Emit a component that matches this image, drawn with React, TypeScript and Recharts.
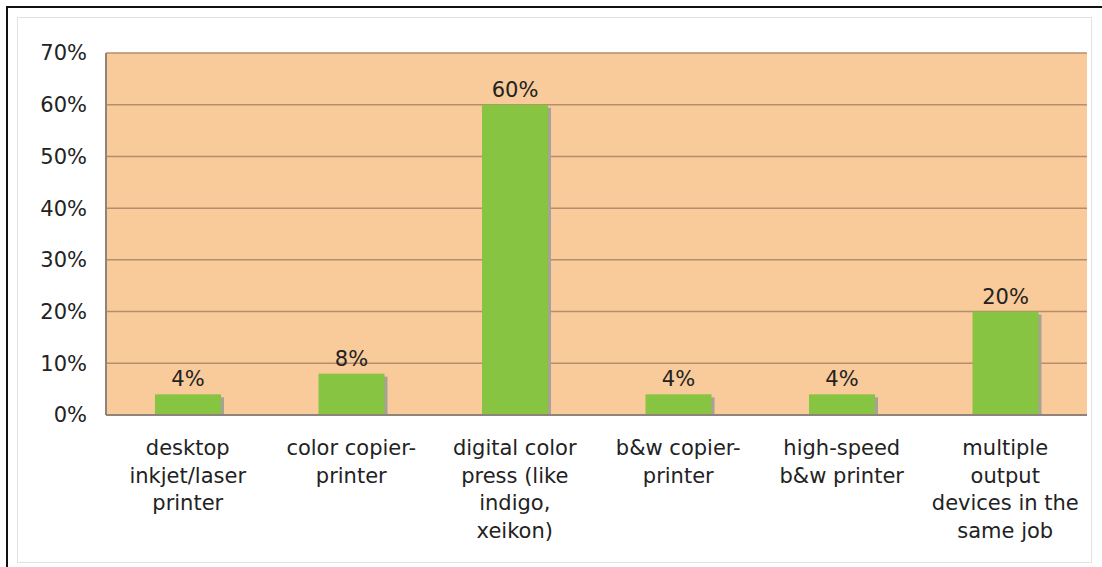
import React from "react"
import { Bar, BarChart, CartesianGrid, LabelList, XAxis, YAxis } from "recharts"

const categories = [
  "desktop\ninkjet/laser\nprinter",
  "color copier-\nprinter",
  "digital color\npress (like\nindigo,\nxeikon)",
  "b&w copier-\nprinter",
  "high-speed\nb&w printer",
  "multiple\noutput\ndevices in the\nsame job",
]
const shares = [4, 8, 60, 4, 4, 20]
const yTicks = [0, 10, 20, 30, 40, 50, 60, 70]

const chartData = categories.map((name, i) => ({ name, share: shares[i] }))

const FONT = "'DejaVu Sans', Verdana, sans-serif"
const TEXT = "#222"

function CategoryTick({ x, y, payload }: any) {
  const lines = String(payload.value).split("\n")
  return (
    <g>
      {lines.map((line, i) => (
        <text
          key={i}
          x={x}
          y={y + 38 + i * 27.5}
          textAnchor="middle"
          fontSize={21}
          fontFamily={FONT}
          fill={TEXT}
        >
          {line}
        </text>
      ))}
    </g>
  )
}

// green bar with a small grey drop shadow on the right
function ShadowBar({ x, y, width, height }: any) {
  if (!height) return null
  return (
    <g>
      <rect x={x + 3} y={y + 3} width={width} height={height - 3} fill="#a8a198" />
      <rect x={x} y={y} width={width} height={height} fill="#87c441" />
    </g>
  )
}

function ValueLabel({ x, y, width, value }: any) {
  return (
    <text
      x={x + width / 2}
      y={y - 8}
      textAnchor="middle"
      fontSize={21}
      fontFamily={FONT}
      fill={TEXT}
    >
      {value}%
    </text>
  )
}

export default function App() {
  return (
    <div
      style={{
        position: "fixed",
        left: 0,
        top: 0,
        width: 1102,
        height: 567,
        background: "#fff",
        overflow: "hidden",
      }}
    >
      <div
        style={{
          position: "absolute",
          left: 6,
          top: 6,
          right: -10,
          bottom: -10,
          borderTop: "2px solid #111",
          borderLeft: "2px solid #111",
        }}
      />
      <div
        style={{
          position: "absolute",
          left: 17,
          top: 17,
          width: 1075,
          height: 546,
          border: "1px solid #e2e2e2",
          boxSizing: "border-box",
        }}
      />
      <div style={{ position: "absolute", left: 0, top: 0 }}>
        <BarChart
          width={1102}
          height={567}
          data={chartData}
          margin={{ top: 53, right: 15, bottom: 0, left: 0 }}
          barSize={66}
        >
          <CartesianGrid vertical={false} fill="#f9ca9a" stroke="#b48e6c" strokeWidth={1.5} fillOpacity={1} />
          <XAxis
            dataKey="name"
            height={152}
            tickLine={false}
            tickSize={0}
            axisLine={{ stroke: "#8e8479", strokeWidth: 2 }}
            tick={<CategoryTick />}
            interval={0}
          />
          <YAxis
            width={106}
            domain={[0, 70]}
            ticks={yTicks}
            tickFormatter={(v: number) => `${v}%`}
            tickLine={false}
            tickSize={0}
            tickMargin={19}
            axisLine={{ stroke: "#8e8479", strokeWidth: 2 }}
            tick={{ fontSize: 21, fontFamily: FONT, fill: TEXT }}
          />
          <YAxis
            yAxisId="r"
            orientation="right"
            width={0}
            domain={[0, 70]}
            tick={false}
            tickLine={false}
            axisLine={{ stroke: "#8e8479", strokeWidth: 2 }}
          />
          <Bar dataKey="share" shape={<ShadowBar />} isAnimationActive={false}>
            <LabelList dataKey="share" content={<ValueLabel />} />
          </Bar>
        </BarChart>
      </div>
    </div>
  )
}
